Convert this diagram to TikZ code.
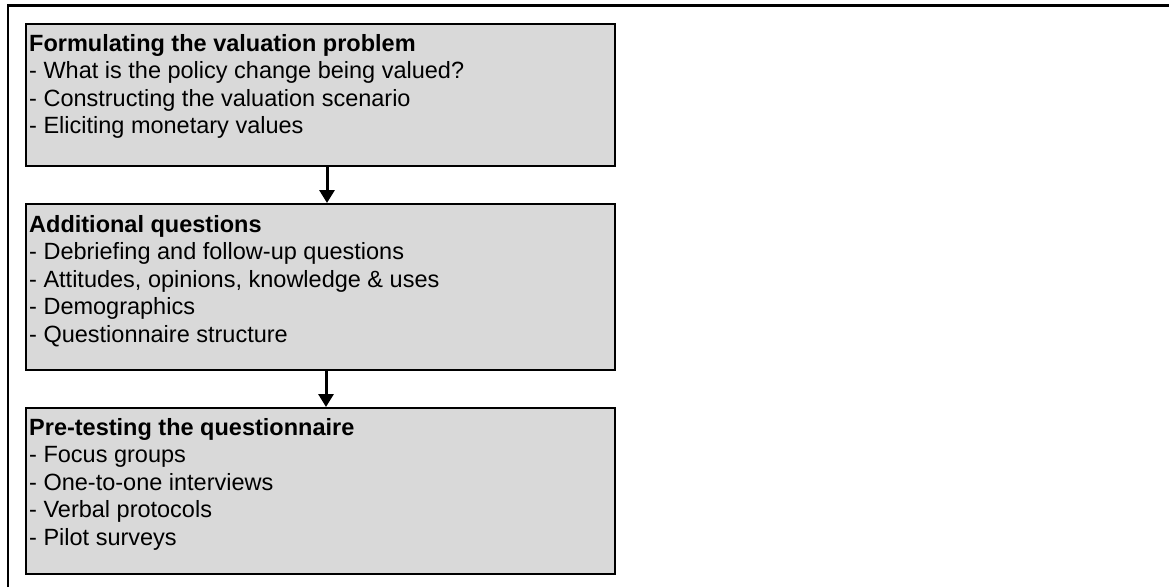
\documentclass[tikz,border=0pt]{standalone}
\usepackage{fontspec}
\setmainfont{Liberation Sans}
\usetikzlibrary{arrows.meta}
\definecolor{boxgray}{RGB}{217,217,217}
\begin{document}
\begin{tikzpicture}[x=1pt,y=-1pt,
  stagebox/.style={draw=black, line width=2pt, fill=boxgray, rectangle,
    inner sep=0pt, minimum width=589pt, anchor=north west},
  item/.style={anchor=base west, inner sep=0pt, font=\fontsize{23.5}{27.6}\selectfont},
  heading/.style={item, font=\fontsize{23.5}{27.6}\selectfont\bfseries},
  flow/.style={line width=3pt, -{Triangle[width=15pt,length=13pt]}}]
\useasboundingbox (0,0) rectangle (1169,587);

% frame (left and top edges)
\draw[line width=2.5pt] (8,587) -- (8,5.5) -- (1169,5.5);

% stage boxes
\node[stagebox, minimum height=142pt] (b1) at (25,23) {};
\node[stagebox, minimum height=166pt] (b2) at (25,203) {};
\node[stagebox, minimum height=166pt] (b3) at (25,407) {};

% stage 1
\node[heading] (t1) at (29,51) {Formulating the valuation problem};
\node[item] (t1a) at (29,78.6) {- What is the policy change being valued?};
\node[item] (t1b) at (29,106.2) {- Constructing the valuation scenario};
\node[item] (t1c) at (29,133.8) {- Eliciting monetary values};

% stage 2
\node[heading] (t2) at (29,232) {Additional questions};
\node[item] (t2a) at (29,259.6) {- Debriefing and follow-up questions};
\node[item] (t2b) at (29,287.2) {- Attitudes, opinions, knowledge \& uses};
\node[item] (t2c) at (29,314.8) {- Demographics};
\node[item] (t2d) at (29,342.4) {- Questionnaire structure};

% stage 3
\node[heading] (t3) at (29,435) {Pre-testing the questionnaire};
\node[item] (t3a) at (29,462.6) {- Focus groups};
\node[item] (t3b) at (29,490.2) {- One-to-one interviews};
\node[item] (t3c) at (29,517.8) {- Verbal protocols};
\node[item] (t3d) at (29,545.4) {- Pilot surveys};

% connectors
\draw[flow] ([xshift=6.5pt]b1.south) -- ([xshift=6.5pt]b2.north);
\draw[flow] ([xshift=5.5pt]b2.south) -- ([xshift=5.5pt]b3.north);
\end{tikzpicture}
\end{document}
